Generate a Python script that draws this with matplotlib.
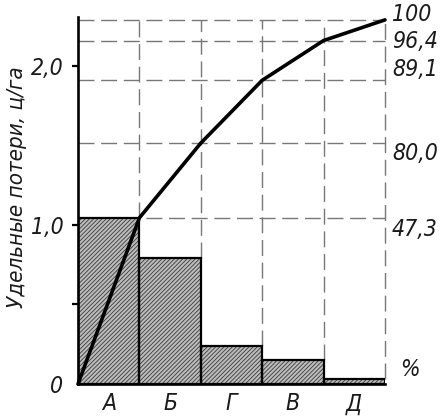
import matplotlib
matplotlib.use('Agg')
import matplotlib.pyplot as plt

# данные диаграммы Парето (удельные потери, ц/га)
categories = ['А', 'Б', 'Г', 'В', 'Д']
losses = [1.045, 0.79, 0.24, 0.15, 0.03]
# кумулятивная линия в единицах левой оси
cum_line = [0.0, 1.045, 1.515, 1.91, 2.16, 2.29]
pct_labels = ['47,3', '80,0', '89,1', '96,4', '100']
y_ticks = [0, 0.5, 1.0, 2.0]
y_tick_labels = ['0', '', '1,0', '2,0']

font = dict(family='DejaVu Sans', style='italic', fontstretch='condensed', color='#1a1a1a')
plt.rcParams['hatch.linewidth'] = 0.6

fig = plt.figure(figsize=(4.45, 4.20), dpi=100)
ax = fig.add_axes([78 / 445, 1 - 384 / 420, 307 / 445, 367 / 420])

xs = list(range(len(categories)))
# штриховка
ax.bar(xs, losses, width=1.0, align='edge', color='#bcbcbc', edgecolor='#3a3a3a',
       hatch='////////', linewidth=0, zorder=2)
# контуры столбцов
ax.bar(xs, losses, width=1.0, align='edge', fill=False, edgecolor='black',
       linewidth=1.6, zorder=3)

# пунктирная сетка
grid = dict(colors='#777777', linestyles=(0, (11.5, 4.8)), linewidth=1.0, zorder=1,
            clip_on=False)
ax.hlines(cum_line[1:], 0, len(categories), **grid)
ax.vlines(range(1, len(categories) + 1), losses, cum_line[-1], **grid)

# кумулятивная кривая
ax.plot(range(len(cum_line)), cum_line, color='black', linewidth=2.6,
        solid_joinstyle='round', solid_capstyle='round', zorder=4, clip_on=False)

ax.set_xlim(0, len(categories))
ax.set_ylim(0, 2.308)

for s in ['top', 'right']:
    ax.spines[s].set_visible(False)
for s in ['left', 'bottom']:
    ax.spines[s].set_linewidth(1.9)
    ax.spines[s].set_zorder(5)

ax.set_yticks(y_ticks)
ax.set_yticklabels(y_tick_labels, fontsize=16.5, **font)
ax.tick_params(axis='y', direction='out', length=4.5, width=1.6, pad=6)
ax.yaxis.get_major_ticks()[0].tick1line.set_visible(False)

ax.set_xticks([x + 0.5 for x in xs])
ax.set_xticklabels(categories, fontsize=16.5, **font)
ax.tick_params(axis='x', length=0, pad=6)

ax.set_ylabel('Удельные потери, ц/га', fontsize=16, **font)
ax.yaxis.set_label_coords(-0.165, 0.535)

# подписи процентов справа
offsets = [-12, -10, 11, -1, 5]
for val, lab, dy in zip(cum_line[1:], pct_labels, offsets):
    ax.annotate(lab, (len(categories), val), xytext=(7, dy), textcoords='offset pixels',
                ha='left', va='center', fontsize=16.5, annotation_clip=False, **font)
ax.annotate('%', (len(categories), 0), xytext=(15, 14), textcoords='offset pixels',
            ha='left', va='center', fontsize=16.5, annotation_clip=False, **font)

fig.savefig('out.png', dpi=100)
